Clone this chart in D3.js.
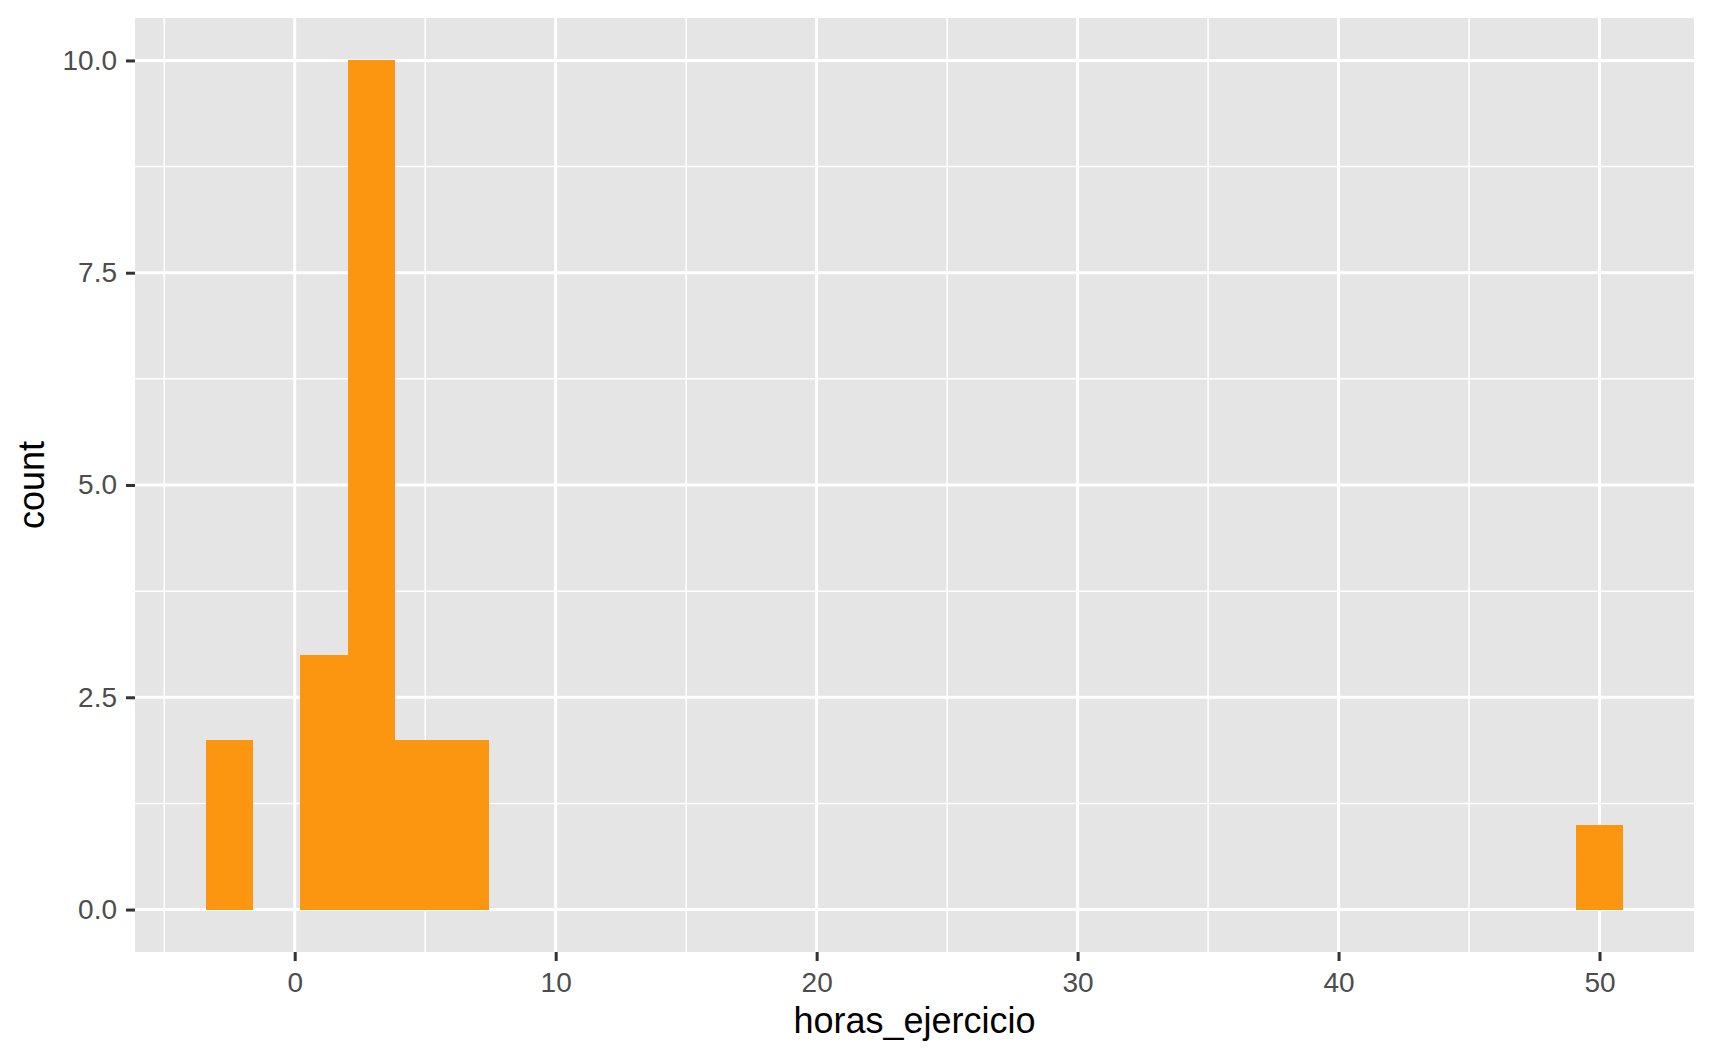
<!DOCTYPE html>
<html>
<head>
<meta charset="utf-8">
<title>horas_ejercicio</title>
<style>
body { margin: 0; background: #fff; }
text { font-family: "Liberation Sans", Arial, sans-serif; }
.tick-label { fill: #4d4d4d; font-size: 28px; }
.axis-title { fill: #000; font-size: 36px; }
</style>
</head>
<body>
<script src="https://cdn.jsdelivr.net/npm/d3@7"></script>
<script>

// histogram bins (30 bins, width ~1.81), only non-empty ones kept
var binWidth = 1.81;
var binStarts = [-3.405, 0.215, 2.025, 3.835, 5.645, 49.095];
var binCounts = [2, 3, 10, 2, 2, 1];

var xMajor = [0, 10, 20, 30, 40, 50];
var xMinor = [-5, 5, 15, 25, 35, 45];
var yMajor = [0, 2.5, 5, 7.5, 10];
var yMinor = [1.25, 3.75, 6.25, 8.75];
var yLabels = ["0.0", "2.5", "5.0", "7.5", "10.0"];

var width = 1712, height = 1058;
var margin = {top: 18, right: 18, bottom: 106, left: 135};
var pw = width - margin.left - margin.right,
    ph = height - margin.top - margin.bottom;

var lo = binStarts[0], hi = binStarts[binStarts.length - 1] + binWidth;
var pad = (hi - lo) * 0.05;

var x = d3.scaleLinear().domain([lo - pad, hi + pad]).range([0, pw]);
var y = d3.scaleLinear().domain([-0.5, 10.5]).range([ph, 0]);

var svg = d3.select("body").append("svg")
    .attr("width", width)
    .attr("height", height);

var g = svg.append("g")
    .attr("transform", "translate(" + margin.left + "," + margin.top + ")");

// panel background
g.append("rect")
    .attr("width", pw)
    .attr("height", ph)
    .attr("fill", "#e5e5e5");

// minor grid
g.selectAll(".xminor").data(xMinor).enter().append("line")
    .attr("x1", d => x(d)).attr("x2", d => x(d))
    .attr("y1", 0).attr("y2", ph)
    .attr("stroke", "#fff").attr("stroke-width", 1.5);
g.selectAll(".yminor").data(yMinor).enter().append("line")
    .attr("y1", d => y(d)).attr("y2", d => y(d))
    .attr("x1", 0).attr("x2", pw)
    .attr("stroke", "#fff").attr("stroke-width", 1.5);

// major grid
g.selectAll(".xmajor").data(xMajor).enter().append("line")
    .attr("x1", d => x(d)).attr("x2", d => x(d))
    .attr("y1", 0).attr("y2", ph)
    .attr("stroke", "#fff").attr("stroke-width", 3);
g.selectAll(".ymajor").data(yMajor).enter().append("line")
    .attr("y1", d => y(d)).attr("y2", d => y(d))
    .attr("x1", 0).attr("x2", pw)
    .attr("stroke", "#fff").attr("stroke-width", 3);

// bars
g.selectAll(".bar").data(binStarts).enter().append("rect")
    .attr("x", d => x(d))
    .attr("width", d => x(d + binWidth) - x(d))
    .attr("y", (d, i) => y(binCounts[i]))
    .attr("height", (d, i) => y(0) - y(binCounts[i]))
    .attr("fill", "#fc950f")
    .attr("shape-rendering", "crispEdges");

// x axis
var xAxis = d3.axisBottom(x).tickValues(xMajor).tickSize(9).tickPadding(11);
var xa = g.append("g").attr("transform", "translate(0," + ph + ")").call(xAxis);
xa.select(".domain").remove();
xa.selectAll(".tick line").attr("stroke", "#333").attr("stroke-width", 3);
xa.selectAll(".tick text").attr("class", "tick-label").attr("fill", null);

// y axis
var yAxis = d3.axisLeft(y).tickValues(yMajor).tickSize(9).tickPadding(9)
    .tickFormat((d, i) => yLabels[i]);
var ya = g.append("g").call(yAxis);
ya.select(".domain").remove();
ya.selectAll(".tick line").attr("stroke", "#333").attr("stroke-width", 3);
ya.selectAll(".tick text").attr("class", "tick-label").attr("fill", null);

ya.attr("font-size", null).attr("font-family", null);
xa.attr("font-size", null).attr("font-family", null);

// axis titles
svg.append("text")
    .attr("class", "axis-title")
    .attr("x", margin.left + pw / 2)
    .attr("y", 1033)
    .attr("text-anchor", "middle")
    .text("horas_ejercicio");

svg.append("text")
    .attr("class", "axis-title")
    .attr("transform", "translate(44," + (margin.top + ph / 2) + ") rotate(-90)")
    .attr("text-anchor", "middle")
    .text("count");

</script>
</body>
</html>
